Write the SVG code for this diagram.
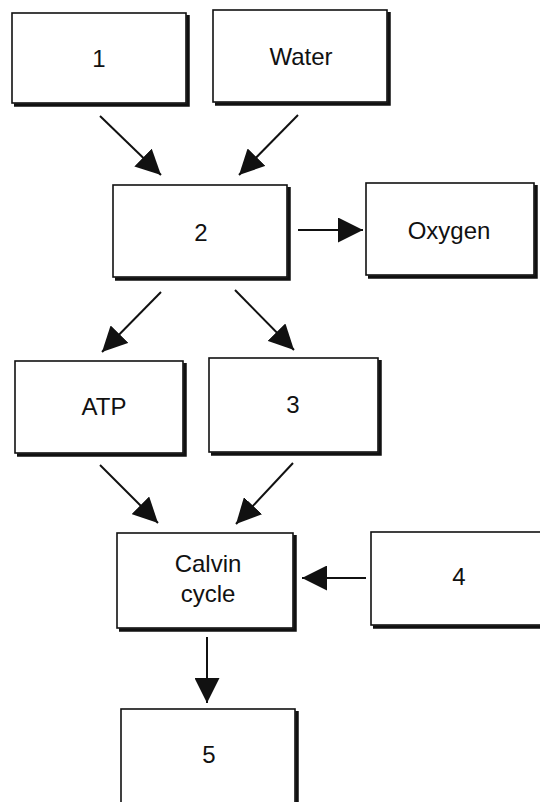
<svg xmlns="http://www.w3.org/2000/svg" width="540" height="802" viewBox="0 0 540 802">
<defs>
<style>
.box{fill:#fff;stroke:#111;stroke-width:1.6}
.sh{fill:none;stroke:#111;stroke-width:3.5}
.lbl{font-family:"Liberation Sans",Arial,sans-serif;font-size:24px;fill:#111;text-anchor:middle}
.con{stroke:#111;stroke-width:2;fill:none;marker-end:url(#ah)}
</style>
<marker id="ah" markerUnits="userSpaceOnUse" markerWidth="25" markerHeight="25" refX="25" refY="12.5" orient="auto" viewBox="0 0 25 25">
<path d="M0,0 L25,12.5 L0,25 Z" fill="#111"/>
</marker>
</defs>
<g id="n1"><rect class="box" x="12" y="13" width="174" height="90"/><path class="sh" d="M188,15 V105 H14"/><text class="lbl" x="99" y="67">1</text></g>
<g id="water"><rect class="box" x="213" y="10" width="174" height="92"/><path class="sh" d="M389,12 V104 H215"/><text class="lbl" x="301" y="65">Water</text></g>
<g id="n2"><rect class="box" x="113" y="185" width="174" height="92"/><path class="sh" d="M289,187 V279 H115"/><text class="lbl" x="201" y="241">2</text></g>
<g id="oxygen"><rect class="box" x="366" y="183" width="168" height="92"/><path class="sh" d="M536,185 V277 H368"/><text class="lbl" x="449" y="239">Oxygen</text></g>
<g id="atp"><rect class="box" x="15" y="361" width="168" height="92"/><path class="sh" d="M185,363 V455 H17"/><text class="lbl" x="104" y="415">ATP</text></g>
<g id="n3"><rect class="box" x="209" y="358" width="169" height="94"/><path class="sh" d="M380,360 V454 H211"/><text class="lbl" x="293" y="413">3</text></g>
<g id="calvin"><rect class="box" x="117" y="533" width="176" height="95"/><path class="sh" d="M295,535 V630 H119"/><text class="lbl" x="208" y="572">Calvin</text><text class="lbl" x="208" y="602">cycle</text></g>
<g id="n4"><rect class="box" x="371" y="532" width="175" height="93"/><path class="sh" d="M548,534 V627 H373"/><text class="lbl" x="459" y="585">4</text></g>
<g id="n5"><rect class="box" x="121" y="709" width="174" height="100"/><path class="sh" d="M297,711 V811 H123"/><text class="lbl" x="209" y="763">5</text></g>
<g id="connectors">
<line class="con" x1="100" y1="116" x2="161" y2="175"/>
<line class="con" x1="298" y1="115" x2="239" y2="175"/>
<line class="con" x1="298" y1="230" x2="363" y2="230"/>
<line class="con" x1="161" y1="292" x2="102" y2="352"/>
<line class="con" x1="235" y1="290" x2="294" y2="350"/>
<line class="con" x1="100" y1="465" x2="158" y2="523"/>
<line class="con" x1="293" y1="463" x2="236" y2="524"/>
<line class="con" x1="366" y1="578" x2="302" y2="578"/>
<line class="con" x1="207" y1="637" x2="207" y2="703"/>
</g>
</svg>
